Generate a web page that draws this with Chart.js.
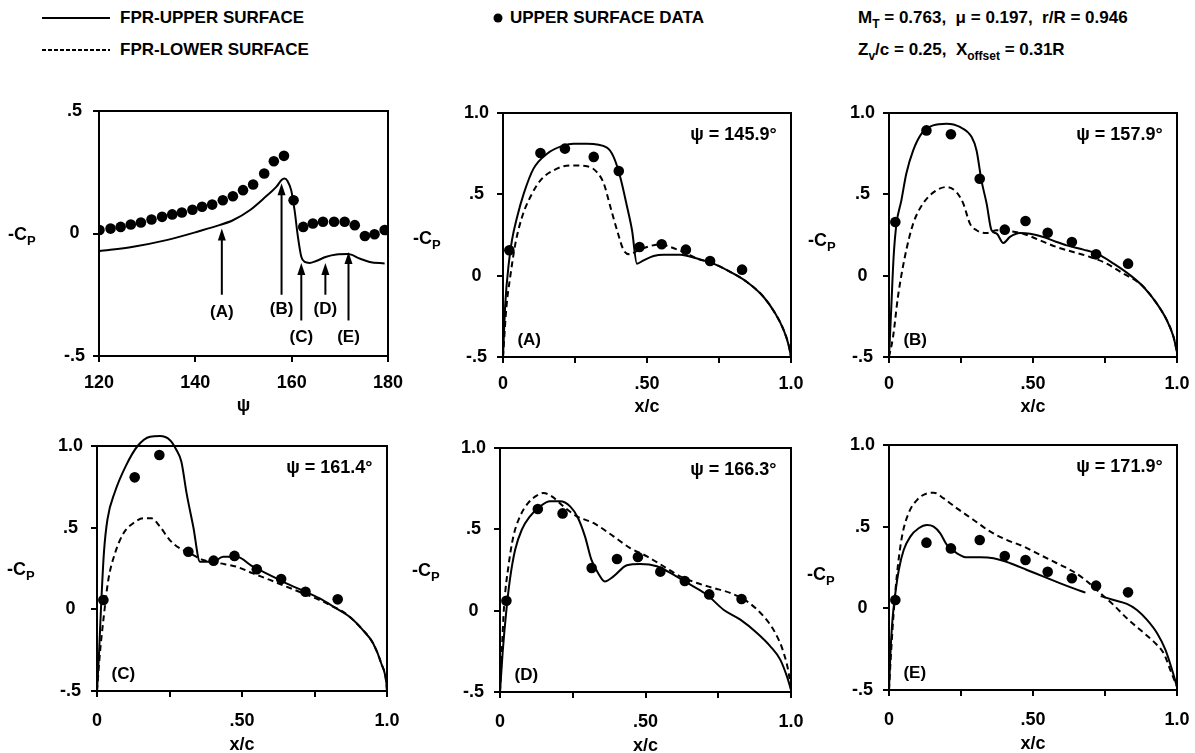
<!DOCTYPE html>
<html>
<head>
<meta charset="utf-8">
<script src="https://cdn.jsdelivr.net/npm/chart.js@4.4.1/dist/chart.umd.min.js"></script>
<style>
  body { margin: 0; background: #fff; width: 1195px; height: 753px; position: relative; overflow: hidden;
         font-family: 'Liberation Sans', Arial, sans-serif; font-weight: bold; color: #000; }
  canvas { position: absolute; }
  .hdr { position: absolute; font-size: 17px; line-height: 18px; white-space: nowrap; }
  .hdr sub { font-size: 12px; vertical-align: -5px; line-height: 0; }
  svg { position: absolute; left: 0; top: 0; }
</style>
</head>
<body>
<svg width="1195" height="70">
  <line x1="42" y1="18" x2="110" y2="18" stroke="#000" stroke-width="2"/>
  <line x1="42" y1="50" x2="110" y2="50" stroke="#000" stroke-width="2" stroke-dasharray="4,2"/>
  <circle cx="498" cy="18" r="4.5" fill="#000"/>
</svg>
<div class="hdr" style="left:120px;top:9px">FPR-UPPER SURFACE</div>
<div class="hdr" style="left:120px;top:41px">FPR-LOWER SURFACE</div>
<div class="hdr" style="left:510px;top:9px">UPPER SURFACE DATA</div>
<div class="hdr" style="left:858px;top:9px">M<sub>T</sub> = 0.763,&nbsp; &mu; = 0.197,&nbsp; r/R = 0.946</div>
<div class="hdr" style="left:858px;top:41px">Z<sub>v</sub>/c = 0.25,&nbsp; X<sub>offset</sub> = 0.31R</div>

<canvas id="p1"></canvas>
<canvas id="pA"></canvas>
<canvas id="pB"></canvas>
<canvas id="pC"></canvas>
<canvas id="pD"></canvas>
<canvas id="pE"></canvas>

<script>
// ---- data: -Cp vs psi (top left panel)
const psiDataX = [120.1, 122.4, 124.5, 126.6, 128.7, 130.9, 133.1, 135.2, 137.2, 139.4, 141.4, 143.5, 145.7, 147.8,
  149.9, 152.0, 154.3, 156.3, 158.4, 160.4, 162.4, 164.4, 166.5, 168.8, 171.0, 173.1, 175.2, 177.2, 179.3];
const psiDataY = [0.014, 0.020, 0.027, 0.037, 0.045, 0.057, 0.068, 0.078, 0.086, 0.097, 0.109, 0.118, 0.136, 0.152,
  0.177, 0.200, 0.245, 0.295, 0.317, 0.136, 0.027, 0.041, 0.048, 0.048, 0.048, 0.034, -0.010, -0.003, 0.014];
const psiUpper = [[120, -0.072], [127.1, -0.054], [134, -0.027], [140.9, 0.010], [145, 0.034], [147.8, 0.054],
  [151.3, 0.095], [154.7, 0.152], [156.8, 0.190], [157.9, 0.218], [158.5, 0.224], [159.2, 0.212], [159.9, 0.177],
  [160.6, 0.095], [161.3, -0.014], [162.0, -0.095], [162.7, -0.116], [163.7, -0.120], [165.1, -0.112],
  [167.2, -0.095], [169.3, -0.086], [171.7, -0.084], [174.1, -0.102], [176.2, -0.116], [179.3, -0.122]];

// arrows marking the five cases on the psi plot
const caseTags = ['(A)', '(B)', '(C)', '(D)', '(E)'];
const casePsi = ['145.9', '157.9', '161.4', '166.3', '171.9'];
const arrowPsi = [145.5, 157.9, 162.0, 167.0, 171.8];
const arrowTip = [0.02, 0.205, -0.12, -0.12, -0.075];
const arrowTail = [-0.25, -0.25, -0.355, -0.25, -0.355];
const arrowLabelY = [-0.32, -0.31, -0.425, -0.31, -0.425];

// ---- data: -Cp vs x/c
const stationX = [0.022, 0.13, 0.215, 0.315, 0.402, 0.474, 0.551, 0.635, 0.719, 0.83];

const aData = [0.156, 0.754, 0.781, 0.73, 0.643, 0.176, 0.193, 0.16, 0.09, 0.037];
const aUpper = [[0, -0.5], [0.008, -0.17], [0.02, 0.074], [0.031, 0.217], [0.049, 0.36], [0.072, 0.504],
  [0.106, 0.658], [0.153, 0.75], [0.211, 0.801], [0.245, 0.811], [0.292, 0.811], [0.361, 0.787], [0.384, 0.73],
  [0.407, 0.607], [0.431, 0.422], [0.448, 0.279], [0.465, 0.074], [0.488, 0.094], [0.523, 0.121], [0.558, 0.129],
  [0.616, 0.129], [0.674, 0.105], [0.731, 0.074], [0.789, 0.023], [0.847, -0.039], [0.905, -0.131],
  [0.946, -0.234], [0.975, -0.336], [0.992, -0.428], [1.0, -0.5]];
const aLower = [[0, -0.5], [0.012, -0.19], [0.025, -0.008], [0.043, 0.197], [0.066, 0.36], [0.095, 0.484],
  [0.13, 0.586], [0.176, 0.648], [0.234, 0.678], [0.292, 0.672], [0.326, 0.637], [0.35, 0.566], [0.373, 0.422],
  [0.396, 0.279], [0.419, 0.156], [0.442, 0.131], [0.465, 0.152], [0.5, 0.176], [0.546, 0.193], [0.581, 0.176],
  [0.639, 0.135], [0.674, 0.105], [0.731, 0.074], [0.789, 0.023], [0.847, -0.039], [0.905, -0.131],
  [0.946, -0.234], [0.975, -0.336], [0.992, -0.428], [1.0, -0.5]];

const bData = [0.33, 0.893, 0.869, 0.596, 0.283, 0.336, 0.264, 0.207, 0.131, 0.074];
const bUpper = [[0, -0.5], [0.008, -0.193], [0.016, 0.115], [0.026, 0.32], [0.043, 0.463], [0.06, 0.627],
  [0.084, 0.77], [0.113, 0.873], [0.153, 0.924], [0.2, 0.934], [0.246, 0.914], [0.287, 0.852], [0.304, 0.77],
  [0.321, 0.586], [0.339, 0.443], [0.356, 0.279], [0.374, 0.258], [0.397, 0.201], [0.42, 0.238], [0.455, 0.262],
  [0.49, 0.258], [0.536, 0.238], [0.582, 0.207], [0.617, 0.186], [0.675, 0.16], [0.722, 0.135], [0.78, 0.074],
  [0.838, 0.002], [0.884, -0.07], [0.93, -0.172], [0.965, -0.275], [0.988, -0.377], [1.0, -0.47]];
const bLower = [[0, -0.5], [0.014, -0.377], [0.031, -0.131], [0.055, 0.115], [0.084, 0.32], [0.118, 0.443],
  [0.165, 0.525], [0.2, 0.545], [0.234, 0.514], [0.258, 0.443], [0.281, 0.32], [0.304, 0.279], [0.339, 0.262],
  [0.374, 0.279], [0.408, 0.275], [0.466, 0.258], [0.524, 0.217], [0.582, 0.176], [0.64, 0.145], [0.698, 0.115],
  [0.756, 0.074], [0.814, 0.012], [0.861, -0.035], [0.884, -0.07], [0.93, -0.172], [0.965, -0.275],
  [0.988, -0.377], [1.0, -0.47]];

const cData = [0.057, 0.808, 0.945, 0.353, 0.298, 0.327, 0.245, 0.186, 0.108, 0.061];
const cUpper = [[0, -0.5], [0.007, -0.27], [0.014, 0.016], [0.024, 0.35], [0.036, 0.55], [0.062, 0.72],
  [0.1, 0.88], [0.14, 1.0], [0.183, 1.057], [0.217, 1.061], [0.251, 1.037], [0.274, 0.976], [0.291, 0.904],
  [0.309, 0.71], [0.332, 0.506], [0.355, 0.292], [0.4, 0.292], [0.435, 0.322], [0.481, 0.322], [0.538, 0.261],
  [0.596, 0.21], [0.653, 0.159], [0.711, 0.114], [0.768, 0.067], [0.825, 0.006], [0.871, -0.045],
  [0.917, -0.127], [0.952, -0.208], [0.98, -0.33], [0.998, -0.453], [1.0, -0.5]];
const cLower = [[0, -0.5], [0.01, -0.27], [0.022, -0.065], [0.039, 0.18], [0.062, 0.343], [0.091, 0.465],
  [0.125, 0.527], [0.16, 0.557], [0.188, 0.557], [0.217, 0.506], [0.251, 0.424], [0.286, 0.373], [0.32, 0.343],
  [0.366, 0.302], [0.424, 0.282], [0.481, 0.261], [0.538, 0.22], [0.596, 0.18], [0.653, 0.139], [0.711, 0.098],
  [0.768, 0.057], [0.814, 0.016], [0.84, -0.005], [0.871, -0.045], [0.917, -0.127], [0.952, -0.208],
  [0.98, -0.33], [0.998, -0.453], [1.0, -0.5]];

const dData = [0.061, 0.625, 0.598, 0.262, 0.318, 0.33, 0.24, 0.182, 0.1, 0.072];
const dUpper = [[0, -0.5], [0.009, -0.26], [0.021, -0.014], [0.034, 0.191], [0.052, 0.375], [0.075, 0.498],
  [0.103, 0.58], [0.138, 0.641], [0.172, 0.672], [0.206, 0.672], [0.241, 0.641], [0.268, 0.57], [0.292, 0.457],
  [0.314, 0.314], [0.337, 0.232], [0.36, 0.18], [0.39, 0.211], [0.436, 0.279], [0.482, 0.287], [0.539, 0.273],
  [0.596, 0.221], [0.654, 0.16], [0.711, 0.098], [0.768, 0.006], [0.826, -0.055], [0.883, -0.137],
  [0.929, -0.219], [0.963, -0.301], [0.986, -0.404], [1.0, -0.486]];
const dLower = [[0, -0.5], [0.006, -0.26], [0.014, 0.027], [0.029, 0.273], [0.046, 0.457], [0.069, 0.58],
  [0.097, 0.662], [0.126, 0.707], [0.149, 0.723], [0.178, 0.703], [0.218, 0.641], [0.264, 0.58], [0.321, 0.539],
  [0.39, 0.457], [0.447, 0.385], [0.505, 0.334], [0.562, 0.273], [0.619, 0.211], [0.677, 0.17], [0.734, 0.139],
  [0.791, 0.109], [0.849, 0.057], [0.906, -0.035], [0.946, -0.137], [0.975, -0.26], [0.992, -0.383],
  [1.0, -0.486]];

const eData = [0.051, 0.402, 0.367, 0.418, 0.32, 0.296, 0.224, 0.184, 0.139, 0.098];
const eUpper = [[0, -0.5], [0.005, -0.276], [0.012, -0.071], [0.022, 0.092], [0.034, 0.235], [0.051, 0.357],
  [0.074, 0.439], [0.103, 0.49], [0.132, 0.51], [0.155, 0.5], [0.178, 0.459], [0.201, 0.388], [0.236, 0.337],
  [0.271, 0.312], [0.317, 0.312], [0.363, 0.306], [0.421, 0.276], [0.479, 0.235], [0.537, 0.194], [0.595, 0.153],
  [0.641, 0.122], [0.682, 0.096], [0.7, null], [0.735, 0.075], [0.78, 0.051], [0.826, 0.027], [0.861, -0.01],
  [0.896, -0.071], [0.931, -0.153], [0.96, -0.255], [0.983, -0.378], [1.0, -0.48]];
const eLower = [[0, -0.5], [0.007, -0.276], [0.016, -0.031], [0.028, 0.214], [0.045, 0.439], [0.068, 0.582],
  [0.097, 0.663], [0.132, 0.704], [0.155, 0.708], [0.19, 0.673], [0.236, 0.612], [0.294, 0.541], [0.352, 0.469],
  [0.41, 0.418], [0.468, 0.378], [0.525, 0.327], [0.583, 0.276], [0.641, 0.224], [0.682, 0.173], [0.734, 0.092],
  [0.78, 0.02], [0.826, -0.061], [0.873, -0.133], [0.919, -0.204], [0.954, -0.276], [0.977, -0.378], [1.0, -0.48]];

const FONT = 'Liberation Sans, Arial, sans-serif';

function pairs(list) { return list.map(p => ({ x: p[0], y: p[1] })); }
function zip(xs, ys) { return xs.map((x, i) => ({ x: x, y: ys[i] })); }

// frame, -Cp label, case labels and arrows
const notes = {
  id: 'notes',
  afterDraw(chart, args, o) {
    const { ctx, chartArea: a, scales: { x, y } } = chart;
    ctx.save();
    ctx.strokeStyle = '#000';
    ctx.fillStyle = '#000';
    ctx.lineWidth = 2;
    ctx.strokeRect(a.left, a.top, a.right - a.left, a.bottom - a.top);

    const cy = y.getPixelForValue(o.cpAt);
    const cx = a.left - o.cpLeft;
    ctx.textAlign = 'left';
    ctx.textBaseline = 'alphabetic';
    ctx.font = 'bold 18px ' + FONT;
    ctx.fillText('-C', cx, cy + 6);
    const w = ctx.measureText('-C').width;
    ctx.font = 'bold 13px ' + FONT;
    ctx.fillText('P', cx + w, cy + 11);

    ctx.textBaseline = 'middle';
    if (o.psi) {
      ctx.font = 'bold 18px ' + FONT;
      ctx.textAlign = 'right';
      ctx.fillText('\u03c8 = ' + o.psi + '\u00b0', x.getPixelForValue(0.95), y.getPixelForValue(0.865));
    }
    if (o.tag) {
      ctx.font = 'bold 17px ' + FONT;
      ctx.textAlign = 'left';
      ctx.fillText(o.tag, x.getPixelForValue(0.05), y.getPixelForValue(-0.4));
    }
    if (o.arrows) {
      ctx.font = 'bold 17px ' + FONT;
      ctx.textAlign = 'center';
      arrowPsi.forEach((p, i) => {
        const px = x.getPixelForValue(p);
        const t = y.getPixelForValue(arrowTip[i]);
        const b = y.getPixelForValue(arrowTail[i]);
        ctx.beginPath();
        ctx.moveTo(px, b);
        ctx.lineTo(px, t + 8);
        ctx.stroke();
        ctx.beginPath();
        ctx.moveTo(px, t);
        ctx.lineTo(px - 4, t + 12);
        ctx.lineTo(px + 4, t + 12);
        ctx.closePath();
        ctx.fill();
        ctx.fillText(caseTags[i], px, y.getPixelForValue(arrowLabelY[i]));
      });
    }
    ctx.restore();
  }
};

function yLabel(v) {
  if (v === 1) return '1.0';
  if (v === 0.5) return '.5';
  if (v === 0) return '0';
  if (v === -0.5) return '-.5';
  return '';
}
function xcLabel(v) {
  if (v === 0) return '0';
  if (v === 0.5) return '.50';
  if (v === 1) return '1.0';
  return '';
}

function makePanel(p) {
  const cv = document.getElementById(p.id);
  const xH = p.xH;
  cv.width = p.W + 130;
  cv.height = p.H + 20 + xH;
  cv.style.left = (p.L - 100) + 'px';
  cv.style.top = (p.T - 20) + 'px';
  const tickFont = { family: FONT, size: 18, weight: 'bold' };
  return new Chart(cv, {
    type: 'scatter',
    data: { datasets: p.datasets },
    options: {
      responsive: false,
      animation: false,
      devicePixelRatio: 1,
      layout: { padding: { left: 40, top: 20, right: 30, bottom: 0 } },
      plugins: { legend: { display: false }, tooltip: { enabled: false }, notes: p.notes },
      scales: {
        x: {
          type: 'linear', min: p.xMin, max: p.xMax,
          afterFit: s => { s.height = xH; },
          border: { display: false },
          grid: { drawOnChartArea: false, drawTicks: true, tickLength: 6, color: '#000', lineWidth: 2 },
          ticks: { stepSize: p.xStep, autoSkip: false, maxRotation: 0, padding: p.xPad, color: '#000',
                   font: tickFont, callback: p.xLabel },
          title: { display: true, text: p.xTitle, color: '#000', font: tickFont, padding: { top: 0, bottom: 1 } }
        },
        y: {
          type: 'linear', min: -0.5, max: p.yMax,
          afterFit: s => { s.width = 60; },
          border: { display: false },
          grid: { drawOnChartArea: false, drawTicks: true, tickLength: 6, color: '#000', lineWidth: 2 },
          ticks: { stepSize: 0.5, padding: 8, crossAlign: 'center', color: '#000', font: tickFont, callback: yLabel }
        }
      }
    },
    plugins: [notes]
  });
}

function dots(data) {
  return { data: data, showLine: false, pointRadius: 5.3, pointBackgroundColor: '#000', pointBorderWidth: 0 };
}
function curve(list, dashed) {
  return { data: pairs(list), showLine: true, borderColor: '#000', borderWidth: 2, pointRadius: 0,
           borderDash: dashed ? [6, 4] : [], cubicInterpolationMode: 'monotone', spanGaps: false, clip: false };
}

makePanel({
  id: 'p1', L: 99, T: 111, W: 289, H: 245, xH: 62, xMin: 120, xMax: 180, xStep: 20, yMax: 0.5, xPad: 10,
  xTitle: '\u03c8', xLabel: v => String(v),
  notes: { cpAt: 0, cpLeft: 91, arrows: true },
  datasets: [dots(zip(psiDataX, psiDataY)), curve(psiUpper, false)]
});

const xcPanels = [
  { id: 'pA', L: 503, T: 113, W: 288, H: 244, xH: 62, xPad: 10, cp: 0.23, cl: 90, up: aUpper, lo: aLower, d: aData },
  { id: 'pB', L: 889, T: 113, W: 288, H: 244, xH: 62, xPad: 10, cp: 0.22, cl: 81, up: bUpper, lo: bLower, d: bData },
  { id: 'pC', L: 97, T: 446, W: 290, H: 245, xH: 66, xPad: 13, cp: 0.25, cl: 90, up: cUpper, lo: cLower, d: cData },
  { id: 'pD', L: 500, T: 448, W: 291, H: 244, xH: 66, xPad: 13, cp: 0.25, cl: 88, up: dUpper, lo: dLower, d: dData },
  { id: 'pE', L: 889, T: 445, W: 288, H: 245, xH: 66, xPad: 13, cp: 0.21, cl: 82, up: eUpper, lo: eLower, d: eData }
];

xcPanels.forEach((p, i) => {
  makePanel({
    id: p.id, L: p.L, T: p.T, W: p.W, H: p.H, xH: p.xH, xMin: 0, xMax: 1, xStep: 0.25, yMax: 1, xPad: p.xPad,
    xTitle: 'x/c', xLabel: xcLabel,
    notes: { cpAt: p.cp, cpLeft: p.cl, psi: casePsi[i], tag: caseTags[i] },
    datasets: [dots(zip(stationX, p.d)), curve(p.up, false), curve(p.lo, true)]
  });
});
</script>
</body>
</html>
